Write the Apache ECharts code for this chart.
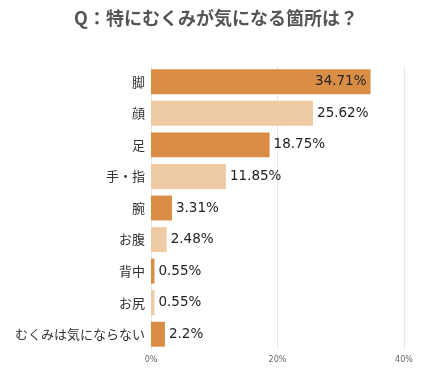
<!DOCTYPE html>
<html><head><meta charset="utf-8">
<script src="https://cdn.jsdelivr.net/npm/echarts@6/dist/echarts.min.js"></script>
<style>html,body{margin:0;padding:0;background:#fff}#c{width:435px;height:384px}</style>
</head><body><div id="c"></div>
<script>
const titleText = 'Q：特にむくみが気になる箇所は？';
const categories = ['脚','顔','足','手・指','腕','お腹','背中','お尻','むくみは気にならない'];
const values = [34.71, 25.62, 18.75, 11.85, 3.31, 2.48, 0.55, 0.55, 2.2];
const xTicks = [0, 20, 40];
const colorDark = '#DA8E45';
const colorLight = '#EECBA5';

const chart = echarts.init(document.getElementById('c'), null, {renderer:'canvas'});
const font = '"Noto Sans CJK JP", "Noto Sans", sans-serif';
const numFont = '"DejaVu Sans", "Noto Sans CJK JP", sans-serif';
chart.setOption({
  animation:false,
  textStyle:{fontFamily:font},
  title:{text:titleText,left:211,textAlign:'center',top:4,
    textStyle:{fontSize:18,fontWeight:'bold',color:'#555',fontFamily:font}},
  grid:{left:151,right:31,top:66,bottom:34,containLabel:false},
  xAxis:{type:'value',min:xTicks[0],max:xTicks[xTicks.length-1],interval:20,
    axisLine:{show:false},axisTick:{show:false},
    splitLine:{lineStyle:{color:'#e8e8e8',width:1}},
    axisLabel:{formatter:'{value}%',fontSize:8,color:'#666',margin:6,fontFamily:numFont}},
  yAxis:{type:'category',data:categories,inverse:true,
    axisLine:{show:false},axisTick:{show:false},
    axisLabel:{fontSize:13,color:'#333',margin:6}},
  series:[{type:'bar',barCategoryGap:'21%',
    data:values.map((v,i)=>({value:v,
      itemStyle:{color:i%2===0?colorDark:colorLight},
      label:{position:i===0?'insideRight':'right'}})),
    label:{show:true,formatter:p=>p.value+'%',fontSize:13.5,color:'#222',distance:4,fontFamily:numFont}
  }]
});
</script></body></html>
